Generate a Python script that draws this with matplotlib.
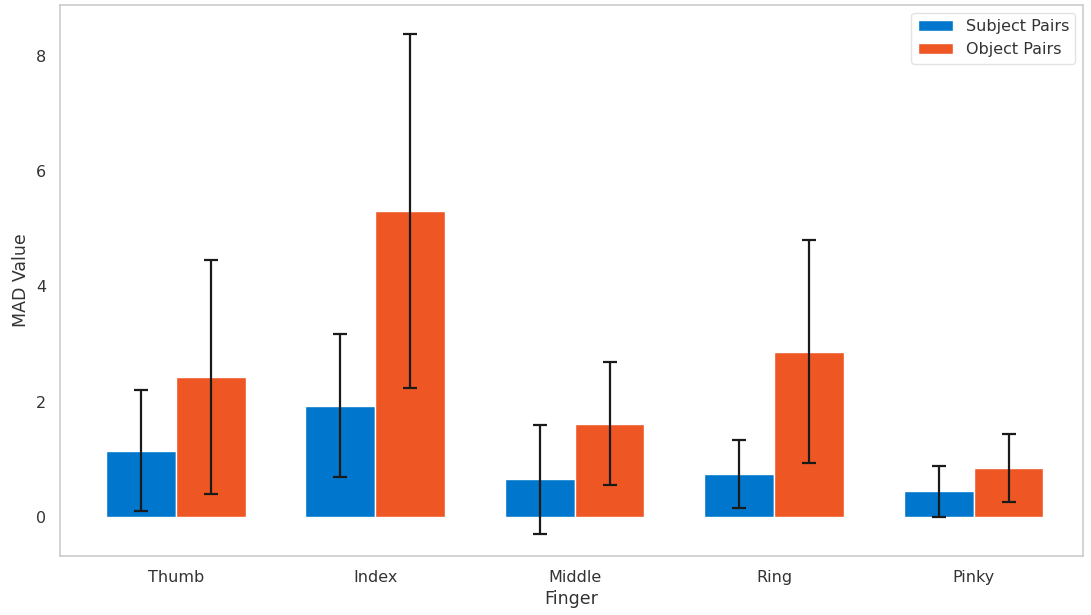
import matplotlib
matplotlib.use("Agg")
import matplotlib.pyplot as plt
import numpy as np

fingers = ["Thumb", "Index", "Middle", "Ring", "Pinky"]
subject_mean = [1.15, 1.93, 0.65, 0.75, 0.44]
subject_err = [1.05, 1.24, 0.94, 0.59, 0.44]
object_mean = [2.43, 5.31, 1.62, 2.87, 0.85]
object_err = [2.03, 3.08, 1.07, 1.93, 0.59]

blue = "#0077CC"
orange = "#EE5724"

fig, ax = plt.subplots(figsize=(10.91, 6.15), dpi=100)
fig.subplots_adjust(left=0.055, right=0.993, top=0.992, bottom=0.096)

x = np.arange(len(fingers))
w = 0.35
ax.bar(x - w / 2, subject_mean, w, yerr=subject_err, capsize=5, color=blue,
       edgecolor="white", linewidth=1, label="Subject Pairs",
       error_kw=dict(ecolor="#1a1a1a", elinewidth=1.6, capthick=1.6))
ax.bar(x + w / 2, object_mean, w, yerr=object_err, capsize=5, color=orange,
       edgecolor="white", linewidth=1, label="Object Pairs",
       error_kw=dict(ecolor="#1a1a1a", elinewidth=1.6, capthick=1.6))

ax.set_xlim(-0.58, 4.55)
ax.set_ylim(-0.68, 8.89)
ax.set_xticks(x)
ax.set_xticklabels(fingers)
ax.set_xlabel("Finger", fontsize=12.5, color="#333333", labelpad=4)
ax.set_ylabel("MAD Value", fontsize=12.5, color="#333333")
ax.tick_params(axis="both", length=0, labelsize=11.5, labelcolor="#333333", pad=10)
for s in ax.spines.values():
    s.set_color("#cccccc")
    s.set_linewidth(1.2)
leg = ax.legend(loc="upper right", fontsize=11.5, frameon=True, edgecolor="#dddddd",
                handlelength=2.2)
for t in leg.get_texts():
    t.set_color("#333333")
fig.savefig("out.png")
